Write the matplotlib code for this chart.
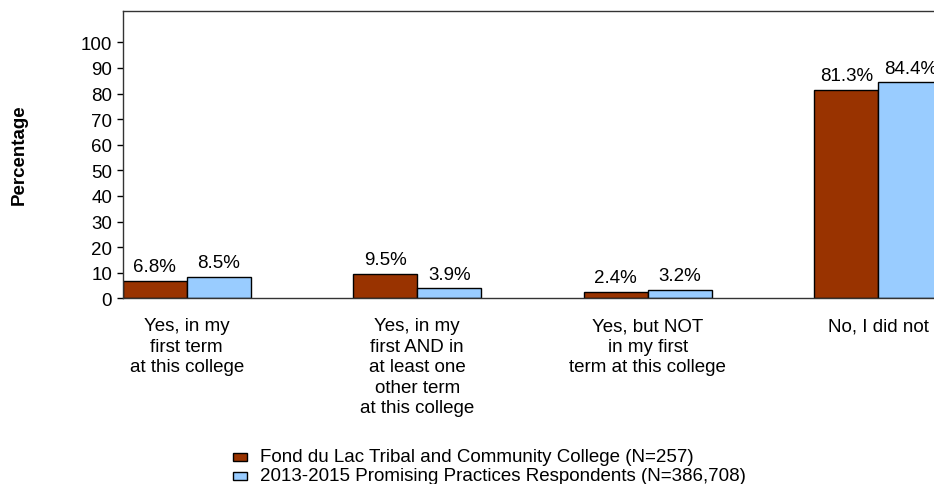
import matplotlib
matplotlib.use("Agg")
import matplotlib.pyplot as plt
from matplotlib.patches import Rectangle
import numpy as np

plt.rcParams['font.family'] = ['Liberation Sans', 'DejaVu Sans']

categories = ["Yes, in my\nfirst term\nat this college",
              "Yes, in my\nfirst AND in\nat least one\nother term\nat this college",
              "Yes, but NOT\nin my first\nterm at this college",
              "No, I did not"]
series_names = ["Fond du Lac Tribal and Community College (N=257)",
                "2013-2015 Promising Practices Respondents (N=386,708)"]
college = [6.8, 9.5, 2.4, 81.3]
promising = [8.5, 3.9, 3.2, 84.4]
colors = ["#993300", "#99CCFF"]
yticks = [0, 10, 20, 30, 40, 50, 60, 70, 80, 90, 100]

W, H = 934, 485
fig = plt.figure(figsize=(W / 100, H / 100), dpi=100)

w = 0.2777
x = np.arange(len(categories))
ax_left, ax_right = 122.7, 942.2
ax_top, ax_bottom = 12.0, 299.3
ax = fig.add_axes([ax_left / W, (H - ax_bottom) / H, (ax_right - ax_left) / W, (ax_bottom - ax_top) / H])

fs = 13.5
for vals, off, col in [(college, -w / 2, colors[0]), (promising, w / 2, colors[1])]:
    bars = ax.bar(x + off, vals, width=w, color=col, edgecolor='black', linewidth=1.0)
    for b, v in zip(bars, vals):
        ax.annotate(f"{v:.1f}%", (b.get_x() + b.get_width() / 2, v), xytext=(0, 7),
                    textcoords='offset points', ha='center', va='baseline', fontsize=fs)

ax.set_xlim(-w, len(categories) - 1 + w)
ax.set_ylim(0, (ax_bottom - ax_top) / 2.56)
ax.set_yticks(yticks)
ax.set_yticklabels([str(t) for t in yticks], fontsize=fs)
ax.set_xticks(x)
ax.set_xticklabels(categories, fontsize=fs, linespacing=1.27)
ax.tick_params(axis='x', length=0, pad=13.5)
ax.tick_params(axis='y', length=4.5, width=1, pad=3.2, direction='out')
for s in ['top', 'left', 'bottom', 'right']:
    ax.spines[s].set_linewidth(1.0)
    ax.spines[s].set_color('#333333')

fig.text(19 / W, (H - 155) / H, "Percentage", rotation=90, ha='center', va='center',
         fontsize=fs, fontweight='bold')

# legend
baselines = [462, 481]
for name, col, bl in zip(series_names, colors, baselines):
    fig.patches.append(Rectangle((233 / W, (H - bl) / H), 14 / W, 8.3 / H, transform=fig.transFigure,
                                 facecolor=col, edgecolor='black', linewidth=1.0))
    fig.text(260 / W, (H - bl) / H, name, ha='left', va='baseline', fontsize=fs)

fig.savefig("out.png", dpi=100)
